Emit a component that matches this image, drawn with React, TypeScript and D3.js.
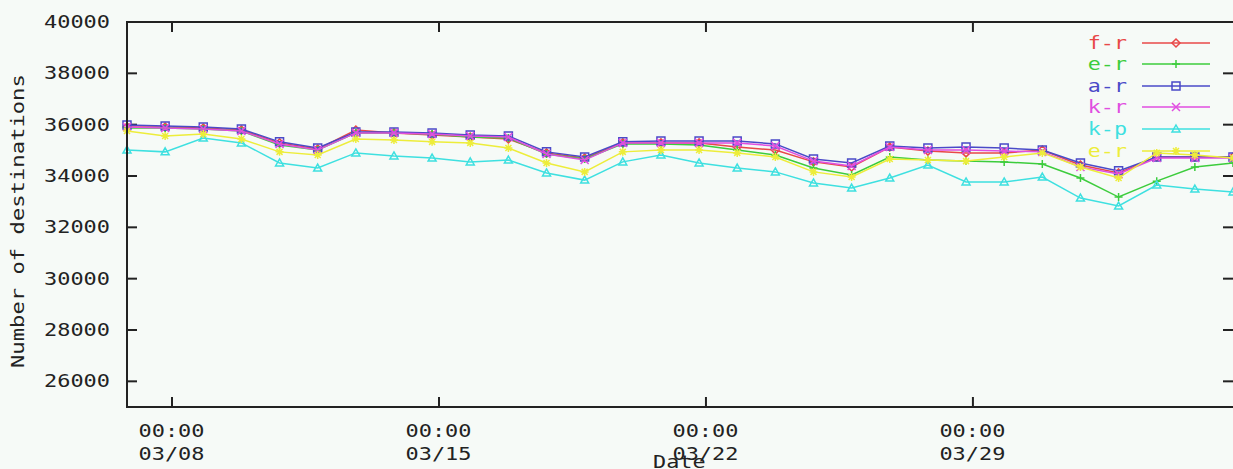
import React from 'react';
import * as d3 from 'd3';

// Daily samples (time of day ~19:40)
const dates: string[] = [
  '2003-03-06T19:40', '2003-03-07T19:40', '2003-03-08T19:40', '2003-03-09T19:40', '2003-03-10T19:40',
  '2003-03-11T19:40', '2003-03-12T19:40', '2003-03-13T19:40', '2003-03-14T19:40', '2003-03-15T19:40',
  '2003-03-16T19:40', '2003-03-17T19:40', '2003-03-18T19:40', '2003-03-19T19:40', '2003-03-20T19:40',
  '2003-03-21T19:40', '2003-03-22T19:40', '2003-03-23T19:40', '2003-03-24T19:40', '2003-03-25T19:40',
  '2003-03-26T19:40', '2003-03-27T19:40', '2003-03-28T19:40', '2003-03-29T19:40', '2003-03-30T19:40',
  '2003-03-31T19:40', '2003-04-01T19:40', '2003-04-02T19:40', '2003-04-03T19:40', '2003-04-04T19:40',
];

const seriesNames: string[] = ['f-r', 'e-r', 'a-r', 'k-r', 'k-p', 'e-r'];

const frValues: number[] = [35910, 35910, 35870, 35790, 35290, 35050, 35790, 35680, 35600, 35520, 35440, 34900, 34700, 35290, 35290, 35290, 35130, 35010, 34550, 34350, 35130, 34970, 34900, 34900, 35010, 34430, 34120, 34740, 34740, 34740];
const erValues: number[] = [35870, 35870, 35830, 35750, 35210, 35010, 35680, 35680, 35640, 35520, 35480, 34860, 34660, 35250, 35250, 35210, 35010, 34820, 34310, 34040, 34740, 34620, 34580, 34550, 34470, 33920, 33180, 33800, 34350, 34510];
const arValues: number[] = [35990, 35950, 35910, 35830, 35330, 35090, 35710, 35710, 35680, 35600, 35560, 34940, 34740, 35330, 35360, 35360, 35360, 35250, 34660, 34510, 35170, 35090, 35130, 35090, 35010, 34510, 34200, 34740, 34740, 34740];
const krValues: number[] = [35910, 35870, 35830, 35750, 35250, 35010, 35680, 35680, 35640, 35560, 35520, 34860, 34620, 35290, 35290, 35290, 35290, 35170, 34580, 34390, 35130, 35010, 35010, 34970, 34940, 34350, 34080, 34700, 34700, 34700];
const kpValues: number[] = [35010, 34940, 35480, 35290, 34510, 34310, 34900, 34780, 34700, 34550, 34620, 34120, 33840, 34550, 34820, 34510, 34310, 34160, 33730, 33530, 33920, 34430, 33770, 33770, 33960, 33140, 32830, 33650, 33490, 33380];
const er2Values: number[] = [35750, 35560, 35640, 35440, 34940, 34820, 35440, 35400, 35330, 35290, 35090, 34510, 34160, 34940, 35010, 35010, 34900, 34740, 34160, 33960, 34660, 34620, 34580, 34740, 34900, 34350, 33920, 34900, 34820, 34700];

const yTicks: number[] = [26000, 28000, 30000, 32000, 34000, 36000, 38000, 40000];
const xTickDates: string[] = ['2003-03-08T00:00', '2003-03-15T00:00', '2003-03-22T00:00', '2003-03-29T00:00'];

const allSeries = [frValues, erValues, arValues, krValues, kpValues, er2Values];
const colors = ['#e84848', '#3ccc3c', '#4a4ac8', '#e04ee0', '#3ee0e0', '#eded3a'];
const markerKinds = ['diamond', 'plus', 'box', 'cross', 'triangle', 'star'];

const W = 1233;
const H = 469;
const LEFT = 127;
const RIGHT = 1233;
const TOP = 22;
const BOTTOM = 407;
const FONT = '"DejaVu Sans Mono", "Liberation Mono", monospace';
const CHAR_W = 13.4;

function markerPath(kind: string, x: number, y: number): string {
  const s = 4;
  switch (kind) {
    case 'diamond':
      return `M${x},${y - s}L${x + s},${y}L${x},${y + s}L${x - s},${y}Z`;
    case 'plus':
      return `M${x - s},${y}H${x + s}M${x},${y - s}V${y + s}`;
    case 'box':
      return `M${x - s},${y - s}H${x + s}V${y + s}H${x - s}Z`;
    case 'cross':
      return `M${x - s},${y - s}L${x + s},${y + s}M${x - s},${y + s}L${x + s},${y - s}`;
    case 'triangle':
      return `M${x},${y - s}L${x + s},${y + 3}L${x - s},${y + 3}Z`;
    default:
      return `M${x - s},${y}H${x + s}M${x},${y - s}V${y + s}M${x - 3},${y - 3}L${x + 3},${y + 3}M${x - 3},${y + 3}L${x + 3},${y - 3}`;
  }
}

export default function App() {
  const parse = d3.timeParse('%Y-%m-%dT%H:%M');
  const dts = dates.map((d) => parse(d) as Date);
  const x = d3.scaleTime().domain([dts[0], dts[dts.length - 1]]).range([LEFT, RIGHT]);
  const y = d3.scaleLinear().domain([25000, 40000]).range([BOTTOM, TOP]);
  const fmtTime = d3.timeFormat('%H:%M');
  const fmtDate = d3.timeFormat('%m/%d');
  const line = d3
    .line<number>()
    .x((_, i) => x(dts[i]))
    .y((v) => y(v));

  const txt = (s: string, xStart: number, yBase: number, fill = '#222', extra: any = {}) => (
    <text
      x={xStart}
      y={yBase}
      fontFamily={FONT}
      fontSize={17}
      fill={fill}
      textLength={s.length * CHAR_W - 1}
      lengthAdjust="spacingAndGlyphs"
      {...extra}
    >
      {s}
    </text>
  );

  const legendRowY = [43, 64, 86, 107, 129, 151];

  return (
    <svg width={W} height={H} style={{ position: 'absolute', left: 0, top: 0, background: '#f6faf7' }}>
      <rect x={0} y={0} width={W} height={H} fill="#f6faf7" />
      {/* y tick labels and ticks */}
      {yTicks.map((t) => (
        <g key={t}>
          {txt(String(t), 110 - (String(t).length * CHAR_W - 1), y(t) + 6)}
          <line x1={LEFT} x2={LEFT + 10} y1={y(t)} y2={y(t)} stroke="#222" strokeWidth={2} />
          <line x1={RIGHT - 10} x2={RIGHT} y1={y(t)} y2={y(t)} stroke="#222" strokeWidth={2} />
        </g>
      ))}
      {/* x ticks */}
      {xTickDates.map((d) => {
        const dt = parse(d) as Date;
        const px = x(dt);
        const a = fmtTime(dt);
        const b = fmtDate(dt);
        return (
          <g key={d}>
            <line x1={px} x2={px} y1={BOTTOM} y2={BOTTOM - 10} stroke="#222" strokeWidth={2} />
            <line x1={px} x2={px} y1={TOP} y2={TOP + 10} stroke="#222" strokeWidth={2} />
            {txt(a, px - (a.length * CHAR_W) / 2, 437)}
            {txt(b, px - (b.length * CHAR_W) / 2, 460)}
          </g>
        );
      })}
      {/* axis titles */}
      {txt('Date', 653, 468)}
      {txt('Number of destinations', -(217 + 151), 24, '#222', { transform: 'rotate(-90)' })}

      {/* series */}
      {allSeries.map((vals, si) => (
        <g key={si}>
          <path d={line(vals) || ''} fill="none" stroke={colors[si]} strokeWidth={1.5} />
          <path
            d={vals.map((v, i) => markerPath(markerKinds[si], x(dts[i]), y(v))).join('')}
            fill="none"
            stroke={colors[si]}
            strokeWidth={1.5}
          />
        </g>
      ))}

      {/* legend */}
      {seriesNames.map((n, si) => {
        const ly = legendRowY[si];
        return (
          <g key={si}>
            {txt(n, 1127 - (n.length * CHAR_W - 1), ly + 6, colors[si])}
            <line x1={1142} x2={1210} y1={ly} y2={ly} stroke={colors[si]} strokeWidth={1.5} />
            <path d={markerPath(markerKinds[si], 1176, ly)} fill="none" stroke={colors[si]} strokeWidth={1.5} />
          </g>
        );
      })}

      {/* frame */}
      <path
        d={`M${RIGHT + 1},${TOP}H${LEFT}V${BOTTOM}H${RIGHT + 1}`}
        fill="none"
        stroke="#222"
        strokeWidth={2}
      />
    </svg>
  );
}
